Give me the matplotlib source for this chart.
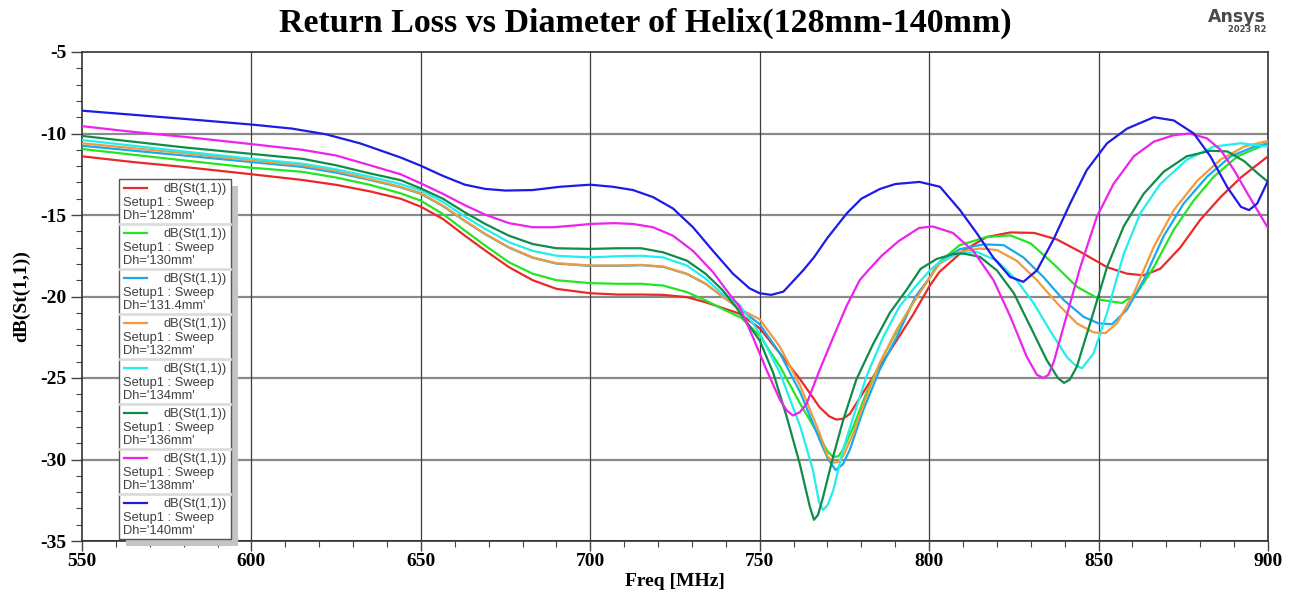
import matplotlib
matplotlib.use("Agg")
import matplotlib.pyplot as plt
from matplotlib.patches import Rectangle
from matplotlib.lines import Line2D
from matplotlib.ticker import MultipleLocator

# ---------------- data ----------------
labels = ["128mm", "130mm", "131.4mm", "132mm", "134mm", "136mm", "138mm", "140mm"]
colors = ["#e82a2a", "#22e622", "#1aa8ee", "#f29a3c", "#22eeee", "#108c48", "#ee22ee", "#1c1ce6"]

f_128 = [550, 565, 580, 600, 615, 625, 635, 644, 650, 656.5, 663, 669, 676, 683, 690, 700, 708, 715, 721.5, 728.5,
         734, 739, 744, 750, 756, 762, 767.7, 770.5, 772.6, 774.6, 776.6, 780.5, 785.4, 790.4, 795.3, 800, 803, 810,
         817, 824, 831, 837.7, 844.6, 852.5, 858.4, 863.3, 868.2, 874.1, 880, 886, 892, 900]
db_128 = [-11.4, -11.75, -12.05, -12.5, -12.85, -13.15, -13.55, -14.0, -14.49, -15.24, -16.27, -17.18, -18.2, -19.0,
          -19.53, -19.8, -19.88, -19.88, -19.9, -20.04, -20.35, -20.7, -21.05, -21.95, -23.5, -25.1, -26.8, -27.35,
          -27.55, -27.5, -27.2, -25.9, -24.3, -22.7, -21.1, -19.4, -18.5, -17.2, -16.35, -16.07, -16.1, -16.5,
          -17.26, -18.2, -18.6, -18.7, -18.3, -17.0, -15.3, -13.9, -12.7, -11.4]

f_130 = [550, 565, 580, 600, 615, 625, 635, 644, 650, 656.5, 663, 669, 676, 683, 690, 700, 708, 715, 721.5, 728.5,
         734, 740, 744.5, 750, 756, 762, 767.7, 770, 771.7, 773.2, 774.6, 777.6, 781.5, 786.4, 791.3, 796.5, 800,
         803, 809, 817, 824, 830, 836.7, 843.6, 850.5, 856.9, 861.3, 866.3, 872.2, 878.1, 884, 891, 900]
db_130 = [-10.95, -11.3, -11.65, -12.1, -12.35, -12.7, -13.15, -13.67, -14.12, -14.94, -15.96, -16.88, -17.9, -18.6,
          -19.0, -19.18, -19.22, -19.22, -19.33, -19.73, -20.24, -20.86, -21.3, -22.4, -24.3, -26.6, -28.6, -29.5,
          -29.85, -29.8, -29.4, -28.0, -25.9, -23.7, -21.8, -19.9, -18.9, -17.9, -16.85, -16.35, -16.25, -16.75,
          -18.0, -19.4, -20.2, -20.4, -19.8, -18.2, -15.9, -14.1, -12.65, -11.4, -10.6]

f_131 = [550, 565, 580, 600, 615, 625, 635, 644, 650, 656.5, 663, 669, 676, 683, 690, 700, 708, 715, 721.5, 728.5,
         734, 739, 745, 750, 756, 762, 767.7, 770, 772.4, 774.5, 776.6, 780.5, 785.4, 790.4, 796, 800, 803, 809,
         816, 822, 827.8, 833.7, 839.6, 845.6, 850, 854, 858.4, 863.3, 869.2, 875.1, 882, 889, 896, 900]
db_131 = [-10.75, -11.05, -11.35, -11.75, -12.05, -12.4, -12.85, -13.3, -13.7, -14.45, -15.37, -16.18, -17.0, -17.62,
          -17.98, -18.12, -18.12, -18.08, -18.18, -18.62, -19.22, -20.0, -20.9, -21.7, -23.5, -25.9, -28.8, -29.9,
          -30.65, -30.3, -29.4, -27.0, -24.5, -22.5, -20.0, -18.9, -17.9, -17.1, -16.8, -16.85, -17.6, -18.8, -20.2,
          -21.25, -21.65, -21.7, -20.8, -19.0, -16.3, -14.3, -12.65, -11.4, -10.8, -10.6]

f_132 = [550, 565, 580, 600, 615, 625, 635, 644, 650, 656.5, 663, 669, 676, 683, 690, 700, 708, 715, 721.5, 728.5,
         734, 739, 745, 750, 756, 762, 767.7, 770, 771.7, 773.2, 774.6, 777.6, 781.5, 785.4, 790.4, 795.3, 800, 803,
         809, 815, 820, 825.8, 831.8, 837.7, 843.6, 848.5, 852, 855.4, 860.4, 866.3, 872.2, 879.1, 886, 893, 900]
db_132 = [-10.6, -10.9, -11.2, -11.65, -11.95, -12.3, -12.8, -13.27, -13.67, -14.43, -15.35, -16.16, -16.98, -17.6,
          -17.96, -18.1, -18.1, -18.06, -18.16, -18.6, -19.2, -20.0, -20.86, -21.4, -23.1, -25.5, -28.4, -29.8,
          -30.2, -30.15, -29.8, -28.4, -26.1, -24.1, -22.05, -20.4, -18.9, -18.0, -17.26, -17.05, -17.15, -17.8,
          -19.0, -20.4, -21.65, -22.2, -22.25, -21.65, -19.8, -16.95, -14.7, -12.9, -11.6, -10.8, -10.45]

f_134 = [550, 565, 580, 600, 615, 625, 635, 644, 650, 656.5, 663, 669, 676, 683, 690, 700, 708, 715, 721.5, 728.5,
         734, 739, 744, 750, 756, 762, 765.7, 767.5, 768.7, 770, 771.7, 774.6, 777.6, 781.5, 786.4, 791.3, 796.3,
         800.2, 803, 808, 814, 820, 825.8, 830.8, 835.7, 840.6, 843, 845.1, 848.5, 852.5, 857.4, 862.3, 868.2,
         876.1, 884, 892, 900]
db_134 = [-10.4, -10.75, -11.1, -11.55, -11.85, -12.2, -12.65, -13.1, -13.5, -14.2, -15.1, -15.86, -16.67, -17.2,
          -17.5, -17.6, -17.53, -17.5, -17.6, -18.1, -18.9, -19.84, -20.5, -22.25, -24.7, -28.0, -30.65, -32.6,
          -33.1, -32.8, -31.9, -29.4, -27.4, -24.9, -22.5, -20.6, -19.3, -18.4, -17.9, -17.4, -17.26, -17.8, -19.0,
          -20.4, -22.1, -23.7, -24.2, -24.4, -23.5, -21.0, -17.4, -14.9, -13.1, -11.6, -10.8, -10.6, -10.8]

f_136 = [550, 565, 580, 600, 615, 625, 635, 644, 650, 656.5, 663, 669, 676, 683, 690, 700, 708, 715, 721.5, 728.5,
         734, 739, 743, 750, 754, 758, 761.8, 764.8, 766, 767.2, 768.7, 771.7, 774.6, 778.5, 783.5, 788.4, 793.3,
         797.5, 802.2, 807, 810, 815, 820, 825, 830, 834.7, 838, 839.8, 841.5, 843.6, 847.5, 852.5, 857.4, 863.3,
         869.2, 876, 883, 888, 893, 897, 900]
db_136 = [-10.15, -10.5, -10.85, -11.25, -11.55, -11.95, -12.45, -12.86, -13.37, -14.0, -14.84, -15.55, -16.27,
          -16.78, -17.04, -17.08, -17.04, -17.04, -17.29, -17.8, -18.6, -19.6, -20.65, -22.7, -24.7, -27.4, -30.25,
          -32.9, -33.7, -33.4, -32.3, -29.8, -27.6, -25.1, -22.9, -21.0, -19.6, -18.3, -17.7, -17.4, -17.36, -17.57,
          -18.4, -19.8, -21.9, -23.9, -25.0, -25.3, -25.1, -24.3, -21.65, -18.2, -15.7, -13.7, -12.35, -11.4,
          -11.06, -11.1, -11.7, -12.45, -12.97]

f_138 = [550, 565, 580, 600, 615, 625, 635, 644, 650, 656.5, 663, 669, 676, 683, 689, 695, 700, 707, 712.6, 718.5,
         724.4, 730.3, 736.2, 741, 744, 748, 752, 756, 758, 759.8, 761.8, 763.8, 767.7, 771.7, 775.6, 779.5, 782,
         786, 791, 797, 801, 807, 813, 819, 824, 828.8, 831.8, 833.7, 835.2, 836.8, 839.6, 844.6, 849.5, 854.4,
         860.4, 866.3, 872.2, 877, 882, 886, 890, 894, 900]
db_138 = [-9.55, -9.9, -10.2, -10.65, -11.0, -11.35, -11.95, -12.5, -13.06, -13.7, -14.4, -14.98, -15.5, -15.75,
          -15.75, -15.65, -15.55, -15.5, -15.55, -15.75, -16.27, -17.2, -18.5, -19.84, -20.6, -22.5, -24.5, -26.35,
          -27.0, -27.3, -27.1, -26.6, -24.5, -22.5, -20.6, -19.0, -18.4, -17.5, -16.6, -15.8, -15.7, -16.1, -17.2,
          -19.0, -21.25, -23.7, -24.8, -25.0, -24.8, -24.0, -21.9, -18.2, -15.1, -13.1, -11.4, -10.5, -10.1, -10.0,
          -10.3, -11.0, -12.25, -13.7, -15.8]

f_140 = [550, 565, 580, 600, 612, 622, 632, 644, 650, 656.5, 663, 669, 675, 683, 691, 700, 706.7, 712.6, 718.5,
         724.4, 730.3, 736.2, 742.1, 747, 750, 753.4, 757, 762.8, 766, 770, 775.7, 780, 785.5, 790, 797.2, 803.2,
         809.1, 814, 818.9, 823.9, 827.8, 831.8, 836.7, 841.6, 846.5, 852.5, 858.4, 866.3, 872.2, 878.1, 883, 888,
         892, 894.4, 896.8, 900]
db_140 = [-8.6, -8.85, -9.1, -9.45, -9.7, -10.05, -10.6, -11.47, -11.98, -12.6, -13.14, -13.4, -13.5, -13.47,
          -13.27, -13.14, -13.27, -13.47, -13.9, -14.6, -15.75, -17.2, -18.6, -19.5, -19.8, -19.9, -19.7, -18.4,
          -17.6, -16.4, -14.9, -14.0, -13.4, -13.1, -12.97, -13.27, -14.7, -16.1, -17.6, -18.8, -19.1, -18.4,
          -16.5, -14.3, -12.25, -10.6, -9.7, -9.0, -9.2, -10.0, -11.4, -13.3, -14.5, -14.7, -14.3, -12.9]

series_f = [f_128, f_130, f_131, f_132, f_134, f_136, f_138, f_140]
series_db = [db_128, db_130, db_131, db_132, db_134, db_136, db_138, db_140]

x_ticks = [550, 600, 650, 700, 750, 800, 850, 900]
y_ticks = [-35, -30, -25, -20, -15, -10, -5]

# ---------------- figure ----------------
W, H = 1294, 595
fig = plt.figure(figsize=(W / 100, H / 100), dpi=100)
L, R, T, B = 82, 1268, 52, 541
ax = fig.add_axes([L / W, 1 - B / H, (R - L) / W, (B - T) / H])

for f, d, c in zip(series_f, series_db, colors):
    ax.plot(f, d, color=c, lw=1.6, solid_joinstyle="round", solid_capstyle="round", zorder=3)

ax.set_xlim(550, 900)
ax.set_ylim(-35, -5)
ax.set_xticks(x_ticks)
ax.set_yticks(y_ticks)
ax.xaxis.set_minor_locator(MultipleLocator(10))
ax.yaxis.set_minor_locator(MultipleLocator(1))
ax.tick_params(axis="x", which="major", direction="out", length=7, width=1, color="#444444",
               labelsize=14, pad=2)
ax.tick_params(axis="y", which="major", direction="out", length=8, width=1, color="#444444",
               labelsize=14, pad=3)
ax.tick_params(axis="both", which="minor", direction="out", length=4, width=0.8, color="#444444")
ax.set_yticklabels([str(v) for v in y_ticks])
for lab in ax.get_xticklabels() + ax.get_yticklabels():
    lab.set_fontfamily("Liberation Serif")
    lab.set_fontweight("bold")

# grid
for yv in y_ticks[1:-1]:
    ax.axhline(yv, color="#8a8a8a", lw=1.6, zorder=1)
for xv in x_ticks[1:-1]:
    ax.axvline(xv, color="#3c3c3c", lw=0.9, zorder=1)
for s in ax.spines.values():
    s.set_color("#333333")
    s.set_linewidth(1.2)
ax.axhline(-35, color="#555555", lw=2.2, zorder=2)

# texts
fig.text(645 / W, 1 - 23 / H, "Return Loss vs Diameter of Helix(128mm-140mm)", ha="center", va="center",
         fontsize=24.5, fontweight="bold", family="Liberation Serif")
fig.text(675 / W, 1 - 573 / H, "Freq [MHz]", ha="center", va="top", fontsize=14, fontweight="bold",
         family="Liberation Serif")
fig.text(22 / W, 1 - 296 / H, "dB(St(1,1))", ha="center", va="center", rotation=90, fontsize=14,
         fontweight="bold", family="Liberation Serif")
fig.text(1266 / W, 1 - 17 / H, "Ansys", ha="right", va="center", fontsize=12.5, fontweight="bold",
         family="Liberation Sans Narrow", color="#4a4a4a")
fig.text(1266 / W, 1 - 30 / H, "2023 R2", ha="right", va="center", fontsize=6, fontweight="bold",
         family="Liberation Sans Narrow", color="#4a4a4a")

# legend (manual, pixel layout)
def fx(px):
    return px / W

def fy(py):
    return 1 - py / H

lx0, lx1, ly0, ly1 = 119, 231, 179, 539
fig.patches.append(Rectangle((fx(lx0 + 7), fy(ly1 + 7)), (lx1 - lx0) / W, (ly1 - ly0) / H,
                             transform=fig.transFigure, facecolor="#c4c4c4", edgecolor="none", zorder=5))
fig.patches.append(Rectangle((fx(lx0), fy(ly1)), (lx1 - lx0) / W, (ly1 - ly0) / H,
                             transform=fig.transFigure, facecolor="white", edgecolor="#555555", lw=1, zorder=6))
pitch = (ly1 - ly0) / len(labels)
for i, (lab, c) in enumerate(zip(labels, colors)):
    top = ly0 + i * pitch
    fig.lines.append(Line2D([fx(124), fx(147)], [fy(top + 9), fy(top + 9)], transform=fig.transFigure,
                            color=c, lw=1.6, zorder=7))
    fig.text(fx(227), fy(top + 10), "dB(St(1,1))", ha="right", va="center", fontsize=9.3,
             family="Liberation Sans", color="#404040", zorder=7)
    fig.text(fx(123), fy(top + 24), "Setup1 : Sweep", ha="left", va="center", fontsize=9.3,
             family="Liberation Sans", color="#404040", zorder=7)
    fig.text(fx(123), fy(top + 37), "Dh='" + lab + "'", ha="left", va="center", fontsize=9.3,
             family="Liberation Sans", color="#404040", zorder=7)
    if i > 0:
        fig.lines.append(Line2D([fx(lx0 + 1), fx(lx1 - 1)], [fy(top), fy(top)], transform=fig.transFigure,
                                color="#dddddd", lw=2, zorder=7))

fig.savefig("out.png", dpi=100)
